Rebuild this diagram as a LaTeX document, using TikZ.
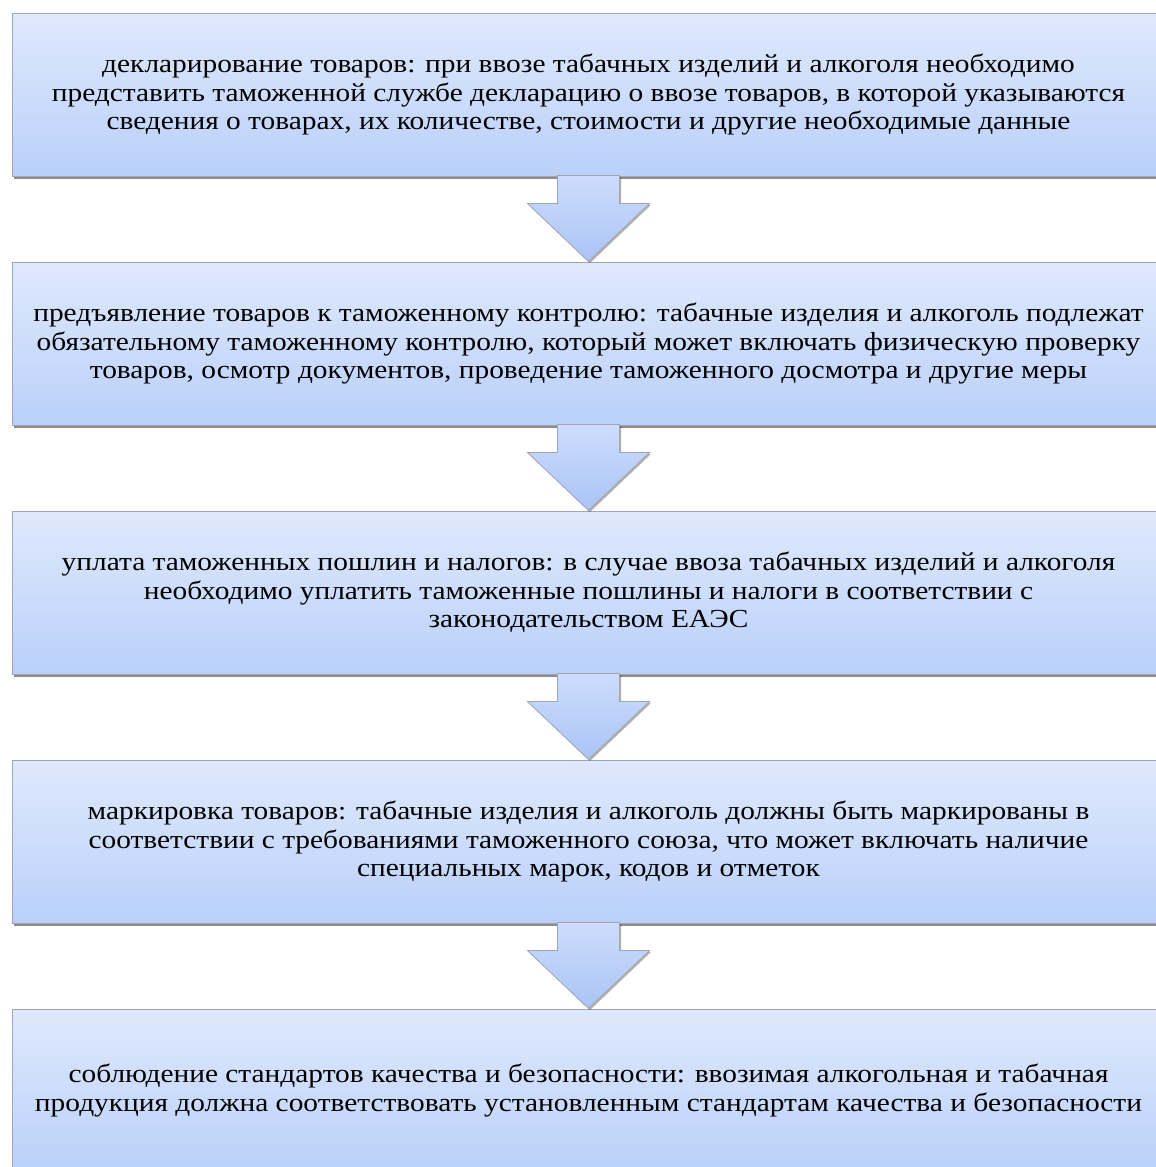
\documentclass[tikz,border=0pt]{standalone}
\usepackage{fontspec}
\setmainfont[FakeStretch=1.13]{Liberation Serif}
\usetikzlibrary{shadows,calc}
\definecolor{boxtop}{RGB}{223,233,252}
\definecolor{boxbot}{RGB}{186,208,250}
\definecolor{arrtop}{RGB}{205,220,252}
\definecolor{arrbot}{RGB}{170,196,246}
\definecolor{edgegray}{RGB}{160,165,175}
\tikzset{
  flowbox/.style={draw=edgegray, line width=1pt, top color=boxtop, bottom color=boxbot,
    minimum width=1153pt, minimum height=163pt, align=center, inner sep=0pt,
    font=\fontsize{26}{28.3}\selectfont,
    drop shadow={shadow xshift=1.5pt, shadow yshift=-2.5pt, fill=black, opacity=0.45}},
  flowarrow/.style={draw=edgegray, line width=0.8pt, top color=arrtop, bottom color=arrbot,
    drop shadow={shadow xshift=1.5pt, shadow yshift=-1.5pt, fill=black, opacity=0.3}}
}
\begin{document}
\begin{tikzpicture}[x=1pt,y=1pt]
\fill[white] (0,0) rectangle (1156,-1167);
\useasboundingbox (0,0) rectangle (1156,-1167);
\clip (0,0) rectangle (1156,-1167);
\node[flowbox] (b1) at (588.5,-94.5) {декларирование товаров: при ввозе табачных изделий и алкоголя необходимо\\ представить таможенной службе декларацию о ввозе товаров, в которой указываются\\ сведения о товарах, их количестве, стоимости и другие необходимые данные};
\node[flowbox] (b2) at (588.5,-343.5) {предъявление товаров к таможенному контролю: табачные изделия и алкоголь подлежат\\ обязательному таможенному контролю, который может включать физическую проверку\\ товаров, осмотр документов, проведение таможенного досмотра и другие меры};
\node[flowbox] (b3) at (588.5,-592.5) {уплата таможенных пошлин и налогов: в случае ввоза табачных изделий и алкоголя\\ необходимо уплатить таможенные пошлины и налоги в соответствии с\\ законодательством ЕАЭС};
\node[flowbox] (b4) at (588.5,-841.5) {маркировка товаров: табачные изделия и алкоголь должны быть маркированы в\\ соответствии с требованиями таможенного союза, что может включать наличие\\ специальных марок, кодов и отметок};
\node[flowbox] (b5) at (588.5,-1090.5) {соблюдение стандартов качества и безопасности: ввозимая алкогольная и табачная\\ продукция должна соответствовать установленным стандартам качества и безопасности};
\foreach \a/\b in {b1/b2,b2/b3,b3/b4,b4/b5}{
  \draw[flowarrow] ($(\a.south)+(-31,1)$) -- ($(\b.north)+(-31,58)$) -- ($(\b.north)+(-61,58)$)
    -- (\b.north) -- ($(\b.north)+(61,58)$) -- ($(\b.north)+(31,58)$) -- ($(\a.south)+(31,1)$) -- cycle;
}
\end{tikzpicture}
\end{document}
